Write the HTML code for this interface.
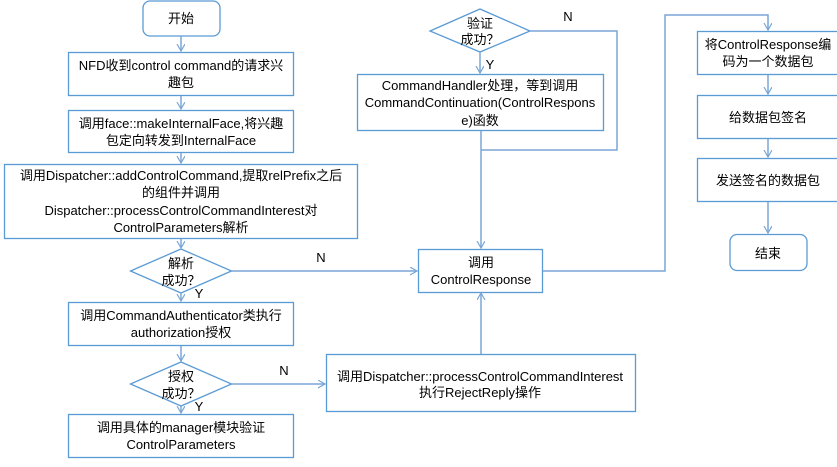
<!DOCTYPE html>
<html><head><meta charset="utf-8"><style>
html,body{margin:0;padding:0;background:#fff;width:837px;height:467px;overflow:hidden}
svg text{font-family:"Liberation Sans","Noto Sans CJK SC",sans-serif;font-size:13px;fill:#000;text-anchor:middle}
</style></head><body>
<svg width="837" height="467" viewBox="0 0 837 467" xmlns="http://www.w3.org/2000/svg">
<defs><marker id="a" markerWidth="10" markerHeight="10" refX="7" refY="4" orient="auto" markerUnits="userSpaceOnUse"><path d="M0,0 L7,4 L0,8" fill="none" stroke="#7aa6d6" stroke-width="1.2"/></marker></defs>
<g fill="#fff" stroke="#5b9bd5" stroke-width="1.3">
<rect x="143" y="1" width="77" height="35" rx="7"/>
<rect x="68.5" y="52.5" width="225" height="43"/>
<rect x="68.5" y="110.5" width="225" height="42"/>
<rect x="4.5" y="164.5" width="353" height="74"/>
<path d="M130.5,271 L181,249 L231.5,271 L181,293 Z"/>
<rect x="68.5" y="302.5" width="225" height="43"/>
<path d="M130.5,384 L181,362 L231.5,384 L181,406 Z"/>
<rect x="68.5" y="414.5" width="225" height="43"/>
<rect x="326.5" y="354.5" width="309" height="57"/>
<rect x="418.5" y="249.5" width="124" height="43"/>
<path d="M430,31 L480,9 L530,31 L480,52 Z"/>
<rect x="357.5" y="74.5" width="246" height="56"/>
<rect x="697.5" y="31.5" width="142" height="43"/>
<rect x="697.5" y="95.5" width="142" height="43"/>
<rect x="697.5" y="158.5" width="142" height="43"/>
<rect x="730" y="234.5" width="77" height="36" rx="7"/>
</g>
<g fill="none" stroke="#7aa6d6" stroke-width="1.5">
<path d="M181,36 V51" marker-end="url(#a)"/>
<path d="M181,96 V109" marker-end="url(#a)"/>
<path d="M181,153 V163" marker-end="url(#a)"/>
<path d="M181,239 V248" marker-end="url(#a)"/>
<path d="M181,293 V301" marker-end="url(#a)"/>
<path d="M181,346 V361" marker-end="url(#a)"/>
<path d="M181,406 V413" marker-end="url(#a)"/>
<path d="M231,271 H417" marker-end="url(#a)"/>
<path d="M231,384 H325" marker-end="url(#a)"/>
<path d="M481,354 V293" marker-end="url(#a)"/>
<path d="M480,52 V73" marker-end="url(#a)"/>
<path d="M481,131 V248" marker-end="url(#a)"/>
<path d="M530,31 H617 V150 H481"/>
<path d="M543,271 H665 V15 H768 V30" marker-end="url(#a)"/>
<path d="M768,75 V94" marker-end="url(#a)"/>
<path d="M768,139 V157" marker-end="url(#a)"/>
<path d="M768,202 V233" marker-end="url(#a)"/>
</g>
<text x="181" y="23">开始</text>
<text x="181" y="70">NFD收到control command的请求兴</text>
<text x="181" y="87">趣包</text>
<text x="181" y="128">调用face::makeInternalFace,将兴趣</text>
<text x="181" y="145">包定向转发到InternalFace</text>
<text x="181" y="180">调用Dispatcher::addControlCommand,提取relPrefix之后</text>
<text x="181" y="197">的组件并调用</text>
<text x="181" y="215">Dispatcher::processControlCommandInterest对</text>
<text x="181" y="232">ControlParameters解析</text>
<text x="181" y="268">解析</text>
<text x="181" y="285">成功？</text>
<text x="199" y="298">Y</text>
<text x="181" y="320">调用CommandAuthenticator类执行</text>
<text x="181" y="337">authorization授权</text>
<text x="181" y="381">授权</text>
<text x="181" y="398">成功？</text>
<text x="199" y="411">Y</text>
<text x="181" y="432">调用具体的manager模块验证</text>
<text x="181" y="449">ControlParameters</text>
<text x="321" y="262">N</text>
<text x="284" y="375">N</text>
<text x="480" y="381">调用Dispatcher::processControlCommandInterest</text>
<text x="480" y="397">执行RejectReply操作</text>
<text x="481" y="267">调用</text>
<text x="481" y="284">ControlResponse</text>
<text x="480" y="28">验证</text>
<text x="480" y="44">成功？</text>
<text x="490" y="69">Y</text>
<text x="568" y="21">N</text>
<text x="480" y="90">CommandHandler处理，等到调用</text>
<text x="480" y="107">CommandContinuation(ControlRespons</text>
<text x="480" y="125">e)函数</text>
<text x="768" y="49">将ControlResponse编</text>
<text x="768" y="66">码为一个数据包</text>
<text x="768" y="122">给数据包签名</text>
<text x="768" y="185">发送签名的数据包</text>
<text x="768" y="258">结束</text>
</svg>
</body></html>
